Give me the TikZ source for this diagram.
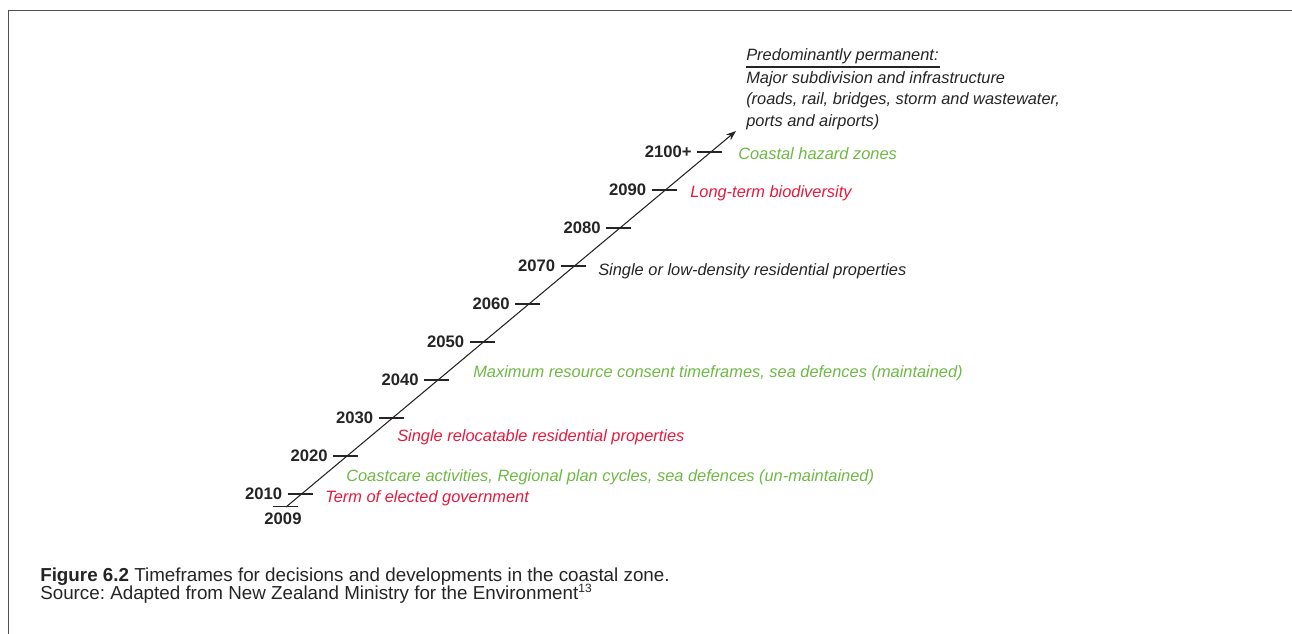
\documentclass[tikz,border=0pt]{standalone}
\usepackage{fontspec}
\setmainfont{Liberation Sans}
\usetikzlibrary{arrows.meta}
\frenchspacing

\definecolor{zonered}{RGB}{230,25,62}
\definecolor{zonegreen}{RGB}{110,184,68}
\definecolor{inkgray}{RGB}{38,36,37}
\definecolor{framegray}{RGB}{80,80,80}

\tikzset{
  year/.style={font=\fontsize{12.5}{14}\selectfont\bfseries, text=inkgray, inner sep=0pt, anchor=east},
  note/.style={font=\fontsize{12.3}{14}\selectfont\itshape, inner sep=0pt, anchor=base west},
  tick/.style={draw=inkgray, line width=0.8pt},
  caption/.style={font=\fontsize{14.1}{16}\selectfont, text=inkgray, inner sep=0pt, anchor=base west}
}

\begin{document}
\begin{tikzpicture}[x=0.75pt,y=0.75pt,yscale=-1,xscale=1]
            %set diagram size to the page: 1292 x 634
            \path[use as bounding box] (0,0) rectangle (1292,634);

            %Frame: top and left rule
            \draw [color=framegray, line width=1.1pt] (8.5,634) -- (8.5,10.5) -- (1292,10.5) ;

            %Time axis
            \coordinate (start) at (286,507);
            \coordinate (tip) at (736,131);
            \draw [color=inkgray, line width=0.8pt, -{Stealth[length=7.5pt,width=5.5pt]}] (start) -- (tip) ;

            %Ticks
            \draw [tick] (273,506.5) -- (298,506.5) ;
            \draw [tick] (287.5,494) -- (312.5,494) ;
            \draw [tick] (333,456) -- (358,456) ;
            \draw [tick] (378.5,418) -- (403.5,418) ;
            \draw [tick] (424,380) -- (449,380) ;
            \draw [tick] (469.5,342) -- (494.5,342) ;
            \draw [tick] (515,304) -- (540,304) ;
            \draw [tick] (560.5,266) -- (585.5,266) ;
            \draw [tick] (606,228) -- (631,228) ;
            \draw [tick] (651.5,190) -- (676.5,190) ;
            \draw [tick] (697,152) -- (722,152) ;

            % Year labels
            \node [year, anchor=center] (y2009) at (283,519) {2009};
            \node [year] (y2010) at (282.5,494) {2010};
            \node [year] (y2020) at (328,456) {2020};
            \node [year] (y2030) at (373.5,418) {2030};
            \node [year] (y2040) at (419,380) {2040};
            \node [year] (y2050) at (464.5,342) {2050};
            \node [year] (y2060) at (510,304) {2060};
            \node [year] (y2070) at (555.5,266) {2070};
            \node [year] (y2080) at (601,228) {2080};
            \node [year] (y2090) at (646.5,190) {2090};
            \node [year] (y2100) at (692,152) {2100+};

            % Text Node
            \node [note, text=zonered] (government) at (325,502) {Term of elected government};
            % Text Node
            \node [note, text=zonegreen] (coastcare) at (346,481.5) {Coastcare activities, Regional plan cycles, sea defences (un-maintained)};
            % Text Node
            \node [note, text=zonered] (relocatable) at (397,441.5) {Single relocatable residential properties};
            % Text Node
            \node [note, text=zonegreen] (consent) at (473,378) {Maximum resource consent timeframes, sea defences (maintained)};
            % Text Node
            \node [note, text=inkgray] (lowdensity) at (598,275.5) {Single or low-density residential properties};
            % Text Node
            \node [note, text=zonered] (biodiversity) at (690,197.5) {Long-term biodiversity};
            % Text Node
            \node [note, text=zonegreen] (hazard) at (738,159.3) {Coastal hazard zones};

            % Permanent block
            \node [note, text=inkgray] (permanent) at (746,60.5) {Predominantly permanent:};
            \draw [color=inkgray, line width=1.4pt] (permanent.south west) ++(0,2.5) -- ++(194,0) ;
            \node [note, text=inkgray] (major) at (746,83.2) {Major subdivision and infrastructure};
            \node [note, text=inkgray] (roads) at (746,105) {(roads, rail, bridges, storm and wastewater,};
            \node [note, text=inkgray] (ports) at (746,126.8) {ports and airports)};

            % Caption
            \node [caption] (figure) at (40,581) {\textbf{Figure 6.2} Timeframes for decisions and developments in the coastal zone.};
            \node [caption] (source) at (40,599.3) {Source: Adapted from New Zealand Ministry for the Environment{\fontsize{9}{10}\selectfont\raisebox{5pt}{13}}};

        \end{tikzpicture}
\end{document}
